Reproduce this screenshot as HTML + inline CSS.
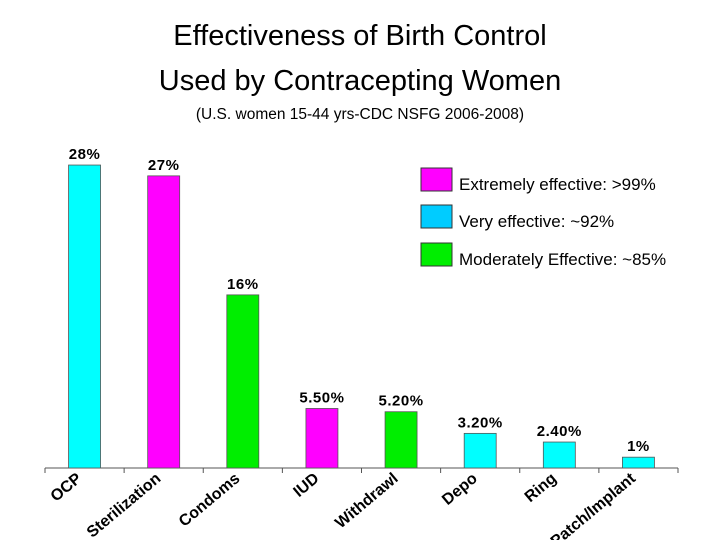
<!DOCTYPE html>
<html><head><meta charset="utf-8"><style>
body{margin:0;background:#fff;}
svg{display:block;font-family:"Liberation Sans",Arial,sans-serif;}
</style></head><body>
<svg id="c" width="720" height="540">
<text x="360" y="45" text-anchor="middle" font-size="29" fill="#000">Effectiveness of Birth Control</text>
<text x="360" y="90" text-anchor="middle" font-size="29" fill="#000">Used by Contracepting Women</text>
<text x="360" y="119" text-anchor="middle" font-size="15.5" fill="#000">(U.S. women 15-44 yrs-CDC NSFG 2006-2008)</text>
<g id="bars"></g>
<g>
<rect x="421" y="168" width="31" height="23" fill="#ff00ff" stroke="#333"/>
<text x="459" y="190" font-size="17">Extremely effective: &gt;99%</text>
<rect x="421" y="205" width="31" height="23" fill="#00ccff" stroke="#333"/>
<text x="459" y="227" font-size="17">Very effective: ~92%</text>
<rect x="421" y="243" width="31" height="23" fill="#00ee00" stroke="#333"/>
<text x="459" y="265" font-size="17">Moderately Effective: ~85%</text>
</g>
</svg>
<script>
const categories=["OCP","Sterilization","Condoms","IUD","Withdrawl","Depo","Ring","Patch/Implant"];
const values=[28,27,16,5.5,5.2,3.2,2.4,1];
const valueLabels=["28%","27%","16%","5.50%","5.20%","3.20%","2.40%","1%"];
const colorsByCat=["#00ffff","#ff00ff","#00ee00","#ff00ff","#00ee00","#00ffff","#00ffff","#00ffff"];
const NS="http://www.w3.org/2000/svg";
const x0=45,x1=678,base=468,ppu=10.82;
const slot=(x1-x0)/categories.length;
const xs=i=>x0+slot*i+slot/2;
const ys=v=>base-v*ppu;
const g=document.getElementById('bars');
function mk(t,a){const e=document.createElementNS(NS,t);for(const k in a)e.setAttribute(k,a[k]);g.appendChild(e);return e;}
const ax=mk('line',{x1:x0,y1:base,x2:x1,y2:base,stroke:'#555','stroke-width':1});


for(let i=0;i<=categories.length;i++){
 const t=mk('line',{x1:x0+slot*i,y1:base,x2:x0+slot*i,y2:base+5,stroke:'#555'});
 
 
}
categories.forEach((c,i)=>{
 const cx=xs(i),y=ys(values[i]);
 const r=mk('rect',{x:cx-16,y:y,width:32,height:base-y,fill:colorsByCat[i],stroke:'#555','stroke-width':0.8});
 
 
 const v=mk('text',{x:cx,y:y-6,'text-anchor':'middle','font-size':15,'font-weight':'bold','letter-spacing':'0.5'});
 v.textContent=valueLabels[i];
 
 
 const l=mk('text',{x:0,y:0,'text-anchor':'end','font-size':16,'font-weight':'bold',transform:`translate(${cx-2},${base+12}) rotate(-40)`});
 l.textContent=c;
 
 
});
</script>
</body></html>
